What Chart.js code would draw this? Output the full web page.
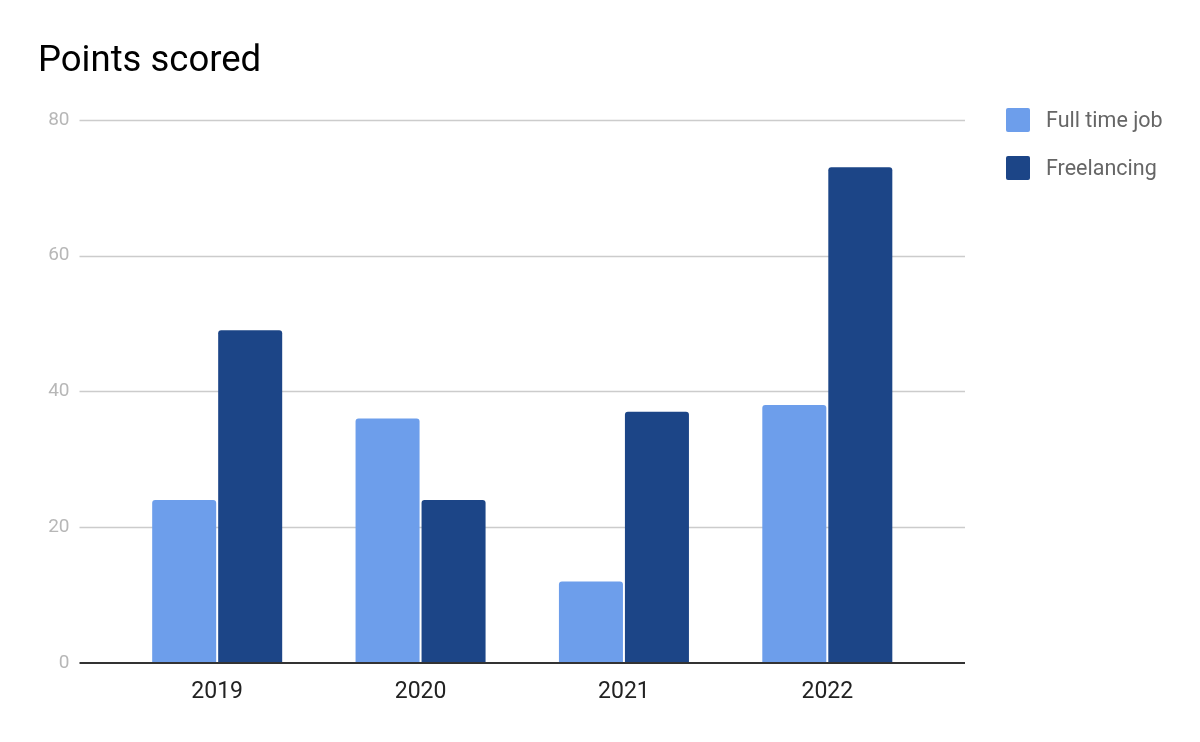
<!DOCTYPE html>
<html>
<head>
<meta charset="utf-8">
<script src="https://cdn.jsdelivr.net/npm/chart.js@4/dist/chart.umd.min.js"></script>
<style>
    html, body { margin: 0; padding: 0; background: #fff; }
    #wrap { width: 1200px; height: 742px; }
</style>
</head>
<body>
<div id="wrap"><canvas id="chart1"></canvas></div>
<script>
const years = ["2019", "2020", "2021", "2022"]
const fullTimeJob = [24, 36, 12, 38]
const freelancing = [49, 24, 37, 73]
const seriesNames = ["Full time job", "Freelancing"]
const seriesColors = ["#6d9eeb", "#1c4587"]
const yTicks = [0, 20, 40, 60, 80]

const font = "Roboto"
const gridOverhang = 36

// google-sheets style grid: lines run past the outer bars
const sheetGrid = {
    id: 'sheetGrid',
    beforeDatasetsDraw(chart) {
        const {ctx, chartArea, scales: {y}} = chart
        ctx.save()
        ctx.strokeStyle = '#cccccc'
        ctx.lineWidth = 1.5
        yTicks.slice(1).forEach(v => {
            const py = Math.round(y.getPixelForValue(v)) + 0.5
            ctx.beginPath()
            ctx.moveTo(chartArea.left - gridOverhang, py)
            ctx.lineTo(chartArea.right + gridOverhang, py)
            ctx.stroke()
        })
        ctx.restore()
    },
    afterDatasetsDraw(chart) {
        const {ctx, chartArea, scales: {y}} = chart
        const py = y.getPixelForValue(0)
        ctx.save()
        ctx.strokeStyle = '#333333'
        ctx.lineWidth = 2
        ctx.beginPath()
        ctx.moveTo(chartArea.left - gridOverhang, py)
        ctx.lineTo(chartArea.right + gridOverhang, py)
        ctx.stroke()
        ctx.restore()
    }
}

// legend sits well to the right of the plot, so draw it by hand
const sideLegend = {
    id: 'sideLegend',
    afterDraw(chart) {
        const {ctx} = chart
        ctx.save()
        chart.data.datasets.forEach((ds, i) => {
            const top = 108 + i * 48
            ctx.fillStyle = ds.backgroundColor
            ctx.beginPath()
            ctx.roundRect(1006, top, 24, 24, 2)
            ctx.fill()
            ctx.fillStyle = '#666666'
            ctx.font = `21.5px ${font}`
            ctx.textBaseline = 'middle'
            ctx.textAlign = 'left'
            ctx.fillText(ds.label, 1046, top + 13.5)
        })
        ctx.restore()
    }
}

var chart1 = document.getElementById('chart1').getContext('2d');
new Chart(chart1, {
    type: 'bar',
    data: {
        labels: years,
        datasets: [{
            label: seriesNames[0],
            backgroundColor: seriesColors[0],
            data: fullTimeJob
        }, {
            label: seriesNames[1],
            backgroundColor: seriesColors[1],
            data: freelancing
        }]
    },
    options: {
        responsive: true,
        maintainAspectRatio: false,
        animation: false,
        categoryPercentage: 0.649,
        barPercentage: 0.97,
        borderRadius: 3,
        layout: {padding: {left: 38, right: 271, top: 0, bottom: 0}},
        plugins: {
            legend: {display: false},
            tooltip: {enabled: false},
            title: {
                display: true,
                text: 'Points scored',
                align: 'start',
                color: '#000000',
                font: {family: font, size: 36.5, weight: 'normal'},
                padding: {top: 40, bottom: 36}
            }
        },
        scales: {
            x: {
                grid: {display: false, drawTicks: false},
                border: {display: false},
                ticks: {color: '#222222', font: {family: font, size: 23}, padding: 15},
                afterFit: s => { s.height = 79 }
            },
            y: {
                min: 0,
                max: 80,
                grid: {display: false, drawTicks: false},
                border: {display: false},
                ticks: {stepSize: 20, color: '#b7b7b7', font: {family: font, size: 19}, padding: 46},
                afterFit: s => { s.width = 77.5 }
            }
        }
    },
    plugins: [sheetGrid, sideLegend]
})
</script>
</body>
</html>
